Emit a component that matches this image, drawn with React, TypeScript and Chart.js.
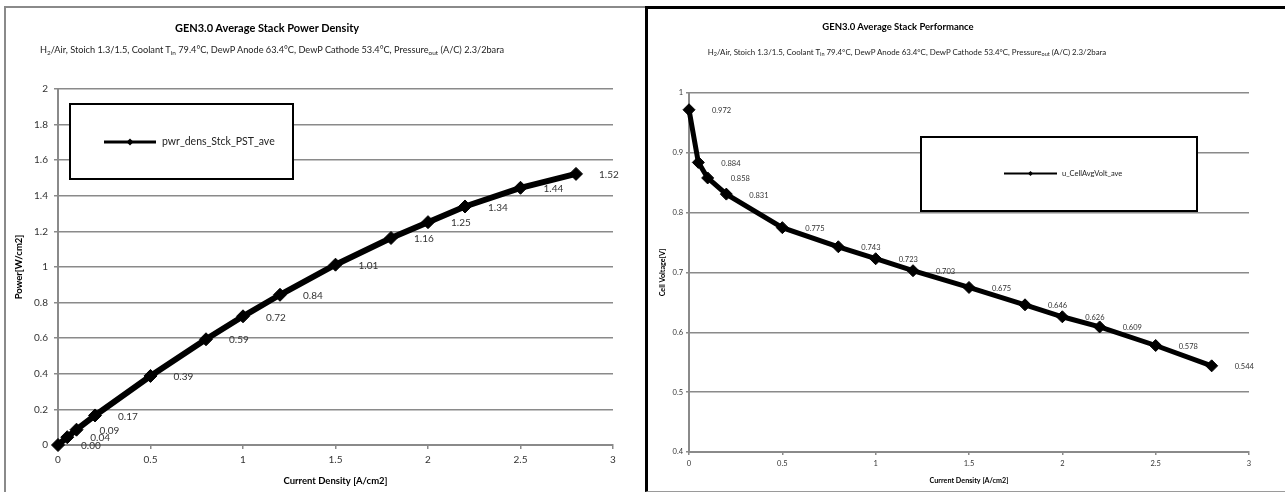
import React, { useEffect, useRef } from 'react';
import { Chart, registerables } from 'chart.js';

Chart.register(...registerables);

// ---- data ----
const CURRENT_DENSITY = [0, 0.05, 0.1, 0.2, 0.5, 0.8, 1.0, 1.2, 1.5, 1.8, 2.0, 2.2, 2.5, 2.8];
const POWER_DENSITY = [0.0, 0.044, 0.086, 0.166, 0.388, 0.594, 0.723, 0.844, 1.013, 1.163, 1.252, 1.34, 1.445, 1.523];
const POWER_LABELS = ['0.00', '0.04', '0.09', '0.17', '0.39', '0.59', '0.72', '0.84', '1.01', '1.16', '1.25', '1.34', '1.44', '1.52'];
const CELL_VOLTAGE = [0.972, 0.884, 0.858, 0.831, 0.775, 0.743, 0.723, 0.703, 0.675, 0.646, 0.626, 0.609, 0.578, 0.544];
const VOLTAGE_LABELS = ['0.972', '0.884', '0.858', '0.831', '0.775', '0.743', '0.723', '0.703', '0.675', '0.646', '0.626', '0.609', '0.578', '0.544'];
const X_TICK_LABELS = ['0', '0.5', '1', '1.5', '2', '2.5', '3'];
const POWER_Y_TICKS = ['0', '0.2', '0.4', '0.6', '0.8', '1', '1.2', '1.4', '1.6', '1.8', '2'];
const VOLT_Y_TICKS = ['0.4', '0.5', '0.6', '0.7', '0.8', '0.9', '1'];

const POWER_SERIES = 'pwr_dens_Stck_PST_ave';
const VOLT_SERIES = 'u_CellAvgVolt_ave';

const FONT = 'Lato, "Open Sans", sans-serif';
const GRID = '#8a8a8a';
const TEXT = '#333333';

function diamond(ctx: CanvasRenderingContext2D, x: number, y: number, r: number) {
  ctx.beginPath();
  ctx.moveTo(x - r, y);
  ctx.lineTo(x, y - r);
  ctx.lineTo(x + r, y);
  ctx.lineTo(x, y + r);
  ctx.closePath();
  ctx.fill();
}

function pointLabelPlugin(labels: string[], size: number, dx: number, dy: number) {
  return {
    id: 'pointLabels',
    afterDatasetsDraw(chart: any) {
      const ctx = chart.ctx as CanvasRenderingContext2D;
      const meta = chart.getDatasetMeta(0);
      ctx.save();
      ctx.font = `${size}px ${FONT}`;
      ctx.fillStyle = TEXT;
      ctx.textAlign = 'left';
      ctx.textBaseline = 'middle';
      meta.data.forEach((pt: any, i: number) => {
        ctx.fillText(labels[i], pt.x + dx, pt.y + dy);
      });
      ctx.restore();
    },
  };
}

function boxLegendPlugin(o: {
  x1: number; y1: number; x2: number; y2: number;
  lx1: number; lx2: number; ly: number; tx: number;
  text: string; size: number; lw: number; mr: number;
}) {
  return {
    id: 'boxLegend',
    beforeDatasetsDraw(chart: any) {
      const ctx = chart.ctx as CanvasRenderingContext2D;
      ctx.save();
      ctx.fillStyle = '#ffffff';
      ctx.fillRect(o.x1, o.y1, o.x2 - o.x1, o.y2 - o.y1);
      ctx.strokeStyle = '#000000';
      ctx.lineWidth = 2;
      ctx.strokeRect(o.x1, o.y1, o.x2 - o.x1, o.y2 - o.y1);
      ctx.beginPath();
      ctx.moveTo(o.lx1, o.ly);
      ctx.lineTo(o.lx2, o.ly);
      ctx.lineWidth = o.lw;
      ctx.stroke();
      ctx.fillStyle = '#000000';
      diamond(ctx, (o.lx1 + o.lx2) / 2, o.ly, o.mr);
      ctx.font = `${o.size}px ${FONT}`;
      ctx.fillStyle = '#222222';
      ctx.textAlign = 'left';
      ctx.textBaseline = 'middle';
      ctx.fillText(o.text, o.tx, o.ly);
      ctx.restore();
    },
  };
}

function makeConfig(opts: {
  yValues: number[]; yMin: number; yMax: number; yStep: number; yTicks: string[];
  yTitle: string; xTitle: string; series: string; labels: string[];
  pad: { left: number; top: number; right: number; bottom: number };
  yWidth: number; xHeight: number; tickSize: number; titleSize: number;
  tickLen: number; yPad: number; xPad: number; lineW: number; radius: number;
  labelSize: number; legend: any;
}): any {
  return {
    type: 'line',
    data: {
      datasets: [
        {
          label: opts.series,
          data: CURRENT_DENSITY.map((x, i) => ({ x, y: opts.yValues[i] })),
          borderColor: '#000000',
          backgroundColor: '#000000',
          borderWidth: opts.lineW,
          pointStyle: 'rectRot',
          pointRadius: opts.radius,
          pointBorderWidth: 1,
          pointBackgroundColor: '#000000',
          pointBorderColor: '#000000',
          tension: 0,
          clip: false,
        },
      ],
    },
    options: {
      responsive: false,
      animation: false,
      devicePixelRatio: 1,
      layout: { padding: opts.pad },
      plugins: {
        legend: { display: false },
        title: { display: false },
        tooltip: { enabled: false },
      },
      scales: {
        x: {
          type: 'linear',
          min: 0,
          max: 3,
          ticks: {
            stepSize: 0.5,
            padding: opts.xPad,
            color: TEXT,
            font: { family: FONT, size: opts.tickSize },
            callback: (_v: any, i: number) => X_TICK_LABELS[i],
            maxRotation: 0,
          },
          grid: { drawOnChartArea: false, color: GRID, lineWidth: 1.5, tickLength: opts.tickLen },
          border: { color: GRID, width: 2 },
          title: {
            display: true,
            text: opts.xTitle,
            color: '#000000',
            font: { family: FONT, size: opts.titleSize, weight: 'bold' },
            padding: { top: 0, bottom: 4 },
          },
          afterFit: (s: any) => { s.height = opts.xHeight; },
        },
        y: {
          type: 'linear',
          min: opts.yMin,
          max: opts.yMax,
          ticks: {
            stepSize: opts.yStep,
            padding: opts.yPad,
            color: TEXT,
            font: { family: FONT, size: opts.tickSize },
            callback: (_v: any, i: number) => opts.yTicks[i],
          },
          grid: { color: GRID, lineWidth: 1.5, tickLength: opts.tickLen },
          border: { color: GRID, width: 2 },
          title: {
            display: true,
            text: opts.yTitle,
            color: '#000000',
            font: { family: FONT, size: opts.titleSize, weight: 'bold' },
            padding: { top: 4, bottom: 0 },
          },
          afterFit: (s: any) => { s.width = opts.yWidth; },
        },
      },
    },
    plugins: [boxLegendPlugin(opts.legend), pointLabelPlugin(opts.labels, opts.labelSize, 23, 1)],
  };
}

const leftConfig = () =>
  makeConfig({
    yValues: POWER_DENSITY, yMin: 0, yMax: 2, yStep: 0.2, yTicks: POWER_Y_TICKS,
    yTitle: 'Power[W/cm2]', xTitle: 'Current Density [A/cm2]', series: POWER_SERIES,
    labels: POWER_LABELS,
    pad: { left: 9, top: 89, right: 33, bottom: 1 },
    yWidth: 49, xHeight: 46, tickSize: 10, titleSize: 9.5, tickLen: 4, yPad: 6, xPad: 5,
    lineW: 6, radius: 6.5, labelSize: 10,
    legend: { x1: 70, y1: 104, x2: 293, y2: 179, lx1: 104, lx2: 156, ly: 142, tx: 162, text: POWER_SERIES, size: 10.5, lw: 3, mr: 3.5 },
  });

const rightConfig = () =>
  makeConfig({
    yValues: CELL_VOLTAGE, yMin: 0.4, yMax: 1, yStep: 0.1, yTicks: VOLT_Y_TICKS,
    yTitle: 'Cell Voltage[V]', xTitle: 'Current Density [A/cm2]', series: VOLT_SERIES,
    labels: VOLTAGE_LABELS,
    pad: { left: 8, top: 93, right: 36, bottom: 3 },
    yWidth: 35, xHeight: 37, tickSize: 7.5, titleSize: 7.2, tickLen: 3, yPad: 3, xPad: 4,
    lineW: 5, radius: 6, labelSize: 7.5,
    legend: { x1: 275, y1: 137, x2: 551, y2: 211, lx1: 358, lx2: 411, ly: 173.5, tx: 416, text: VOLT_SERIES, size: 7.5, lw: 2, mr: 2.5 },
  });

const subStyle: React.CSSProperties = { fontSize: '70%', lineHeight: 0, verticalAlign: '-0.25em' };

function Subtitle() {
  return (
    <>
      H<sub style={subStyle}>2</sub>/Air, Stoich 1.3/1.5, Coolant T<sub style={subStyle}>in</sub> 79.4°C, DewP Anode 63.4°C, DewP
      Cathode 53.4°C, Pressure<sub style={subStyle}>out</sub> (A/C) 2.3/2bara
    </>
  );
}

function centered(cx: number, cy: number, size: number, bold: boolean): React.CSSProperties {
  return {
    position: 'absolute',
    left: cx - 350,
    width: 700,
    top: cy - 8,
    height: 16,
    lineHeight: '16px',
    textAlign: 'center',
    fontFamily: FONT,
    fontSize: size,
    fontWeight: bold ? 700 : 400,
    color: bold ? '#000' : '#222',
    whiteSpace: 'nowrap',
  };
}

export default function App() {
  const leftRef = useRef<HTMLCanvasElement>(null);
  const rightRef = useRef<HTMLCanvasElement>(null);

  useEffect(() => {
    const c1 = new Chart(leftRef.current as HTMLCanvasElement, leftConfig());
    const c2 = new Chart(rightRef.current as HTMLCanvasElement, rightConfig());
    return () => {
      c1.destroy();
      c2.destroy();
    };
  }, []);

  return (
    <div style={{ position: 'fixed', left: 0, top: 0, width: 1285, height: 492, background: '#fff', overflow: 'hidden' }}>
      <canvas ref={leftRef} width={646} height={492} style={{ position: 'absolute', left: 0, top: 0, width: 646, height: 492 }} />
      <canvas ref={rightRef} width={639} height={492} style={{ position: 'absolute', left: 646, top: 0, width: 639, height: 492 }} />
      <div style={centered(267, 28, 11, true)}>GEN3.0 Average Stack Power Density</div>
      <div style={centered(272, 50, 9.2, false)}><Subtitle /></div>
      <div style={centered(898, 27, 9.5, true)}>GEN3.0 Average Stack Performance</div>
      <div style={centered(907, 52, 7.9, false)}><Subtitle /></div>
      {/* frames */}
      <div style={{ position: 'absolute', left: 4, top: 6, width: 645, height: 500, borderLeft: '2px solid #8a8a8a', borderTop: '2px solid #8a8a8a', boxSizing: 'border-box', pointerEvents: 'none' }} />
      <div style={{ position: 'absolute', left: 645, top: 6, width: 700, height: 486, borderLeft: '3px solid #000', borderTop: '3px solid #000', borderBottom: '1px solid #9a9a9a', boxSizing: 'border-box', pointerEvents: 'none' }} />
    </div>
  );
}
